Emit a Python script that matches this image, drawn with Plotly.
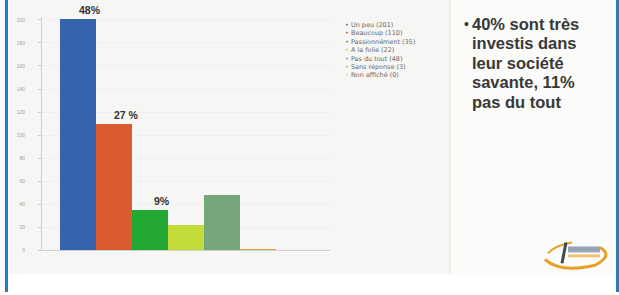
import plotly.graph_objects as go

W, H = 619, 295

categories = ["Un peu", "Beaucoup", "Passionnément", "A la folie",
              "Pas du tout", "Sans réponse", "Non affiché"]
values = [201, 110, 35, 22, 48, 1, 0]
legend_counts = [201, 110, 35, 22, 48, 3, 0]
bar_labels = ["48%", "27 %", "9%", "", "", "", ""]
y_ticks = [0, 20, 40, 60, 80, 100, 120, 140, 160, 180, 200]
bar_colors = ["#3463ad", "#d95b2f", "#23a833", "#c4db3c", "#76a67b", "#e6a040", "#cccccc"]
legend_colors = ["#3a66b4", "#e2463a", "#22a844", "#c8dc30", "#6aa070", "#e8a040", "#d0d0d0"]
side_lines = ["40% sont très", "investis dans", "leur société", "savante, 11%", "pas du tout"]


def px(x):
    return x / W


def py(y):
    return 1 - y / H


fig = go.Figure()
fig.add_trace(go.Bar(
    x=list(range(len(categories))), y=values,
    marker=dict(color=bar_colors, line=dict(width=0)),
    width=1, showlegend=False, hoverinfo="skip", cliponaxis=False,
))

annotations = []
for i, lab in enumerate(bar_labels):
    if lab:
        annotations.append(dict(
            x=i, y=values[i], xref="x", yref="y", text="<b>%s</b>" % lab,
            showarrow=False, yanchor="bottom", xshift=12, yshift=1,
            font=dict(family="Liberation Sans, Arial", size=10.5, color="#333333"),
        ))

# legend (one block so lines sit 8.4 px apart)
leg_size = 6.45
dots = "<br>".join('<span style="color:%s">•</span>' % col for col in legend_colors)
names = "<br>".join("%s (%d)" % (c, n) for c, n in zip(categories, legend_counts))
annotations.append(dict(
    x=px(343), y=py(19.5), xref="paper", yref="paper", text=dots,
    showarrow=False, xanchor="left", yanchor="top", align="left",
    font=dict(family="DejaVu Sans", size=leg_size, color="#888888"),
))
annotations.append(dict(
    x=px(349), y=py(19.5), xref="paper", yref="paper", text=names,
    showarrow=False, xanchor="left", yanchor="top", align="left",
    font=dict(family="DejaVu Sans", size=leg_size, color="#6a6a6a"),
))

# side text
annotations.append(dict(
    x=px(462), y=py(24), xref="paper", yref="paper", text="•",
    showarrow=False, xanchor="left", yanchor="middle",
    font=dict(family="Liberation Sans, Arial", size=14, color="#333333"),
))
for i, line in enumerate(side_lines):
    annotations.append(dict(
        x=px(470), y=py(24 + i * 19.7), xref="paper", yref="paper", text="<b>%s</b>" % line,
        showarrow=False, xanchor="left", yanchor="middle",
        font=dict(family="Liberation Sans, Arial", size=16.5, color="#383838"),
    ))

shapes = [
    # slide panels
    dict(type="rect", xref="paper", yref="paper", x0=px(9), x1=px(450), y0=py(277), y1=py(0),
         fillcolor="#f6f6f4", line=dict(width=0), layer="below"),
    dict(type="rect", xref="paper", yref="paper", x0=px(450), x1=px(615), y0=py(277), y1=py(0),
         fillcolor="#fbfbf9", line=dict(width=0), layer="below"),
    dict(type="line", xref="paper", yref="paper", x0=px(450), x1=px(450), y0=py(277), y1=py(0),
         line=dict(color="#e6e6e2", width=1)),
    # frame borders
    dict(type="rect", xref="paper", yref="paper", x0=px(5), x1=px(8), y0=0, y1=1,
         fillcolor="#1f7fbf", line=dict(width=0)),
    dict(type="rect", xref="paper", yref="paper", x0=px(616), x1=px(619), y0=0, y1=1,
         fillcolor="#1f7fbf", line=dict(width=0)),
    # logo swoosh
    dict(type="path", xref="paper", yref="paper",
         path="M %f %f Q %f %f %f %f Q %f %f %f %f" % (
             px(545), py(262), px(560), py(276), px(595), py(268),
             px(614), py(258), px(600), py(250)),
         line=dict(color="#e8a020", width=3)),
    dict(type="path", xref="paper", yref="paper",
         path="M %f %f Q %f %f %f %f" % (px(548), py(256), px(555), py(248), px(572), py(245)),
         line=dict(color="#e8a020", width=2)),
    dict(type="line", xref="paper", yref="paper", x0=px(562), x1=px(566), y0=py(266), y1=py(245),
         line=dict(color="#404858", width=3)),
    dict(type="rect", xref="paper", yref="paper", x0=px(568), x1=px(600), y0=py(255), y1=py(249),
         fillcolor="#9aa2b8", line=dict(width=0)),
    dict(type="rect", xref="paper", yref="paper", x0=px(568), x1=px(600), y0=py(260), y1=py(257),
         fillcolor="#f0c070", line=dict(width=0)),
]

fig.update_layout(
    width=W, height=H, margin=dict(l=0, r=0, t=0, b=0),
    paper_bgcolor="#ffffff", plot_bgcolor="#fdfdfd",
    bargap=0, showlegend=False,
    annotations=annotations, shapes=shapes,
    xaxis=dict(domain=[px(42), px(330)], range=[-1, 7], showticklabels=False,
               showgrid=False, zeroline=False, showline=True, linecolor="#cfcfcf",
               linewidth=1, mirror=False, ticks="", fixedrange=True),
    yaxis=dict(domain=[py(253), py(17)], range=[0, 202.6], tickvals=y_ticks,
               ticktext=[str(v) for v in y_ticks],
               tickfont=dict(family="Liberation Sans, Arial", size=5, color="#a0a0a0"),
               ticks="outside", ticklen=3, tickcolor="#cccccc", ticklabelstandoff=12,
               showgrid=True, gridcolor="#efefef", gridwidth=1,
               zeroline=False, showline=True, linecolor="#cfcfcf", linewidth=1,
               fixedrange=True),
)

fig.write_html(
    "out.html",
    config={"displayModeBar": False},
    post_script="document.body.style.margin='0px';document.body.style.overflow='hidden';",
)
